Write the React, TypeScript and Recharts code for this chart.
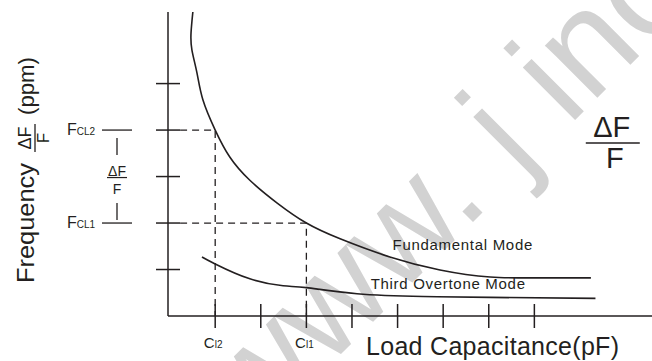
import React from "react";
import { LineChart, Line, XAxis, YAxis, ReferenceDot } from "recharts";

// Load capacitance vs frequency pulling, schematic curves (axis units = tick steps)
const fundamentalMode = [
  { x: 0.51, y: 6.54 },
  { x: 0.47, y: 6.09 },
  { x: 0.49, y: 5.72 },
  { x: 0.6, y: 5.23 },
  { x: 0.73, y: 4.65 },
  { x: 1.0, y: 4.0 },
  { x: 1.32, y: 3.42 },
  { x: 1.76, y: 2.92 },
  { x: 2.36, y: 2.43 },
  { x: 3.0, y: 2.0 },
  { x: 3.74, y: 1.66 },
  { x: 4.83, y: 1.27 },
  { x: 5.93, y: 0.99 },
  { x: 7.03, y: 0.84 },
  { x: 8.12, y: 0.82 },
  { x: 9.24, y: 0.82 },
];

const thirdOvertoneMode = [
  { x: 0.71, y: 1.27 },
  { x: 1.0, y: 1.12 },
  { x: 1.76, y: 0.8 },
  { x: 2.49, y: 0.65 },
  { x: 3.0, y: 0.61 },
  { x: 4.11, y: 0.48 },
  { x: 5.56, y: 0.42 },
  { x: 7.03, y: 0.4 },
  { x: 9.34, y: 0.38 },
];

// dashed guides from F_CL2 / F_CL1 down to C_l2 / C_l1
const guideCl2 = [
  { x: 0.23, y: 4 },
  { x: 1, y: 4 },
  { x: 1, y: 0 },
];
const guideCl1 = [
  { x: 0.23, y: 2 },
  { x: 3, y: 2 },
  { x: 3, y: 0 },
];

const xTicks = [1, 2, 3, 4, 5, 6, 7, 8];
const yTicks = [1, 2, 3, 4, 5];
const xTickLabels: Record<number, string> = { 1: "l2", 3: "l1" };
const yTickLabels: Record<number, string> = { 4: "CL2", 2: "CL1" };

const INK = "#231f20";
const FONT = "'Liberation Sans', Arial, Helvetica, sans-serif";

function XTick(props: any) {
  const { x, y, payload } = props;
  const sub = xTickLabels[payload.value];
  return (
    <g>
      <line x1={x} x2={x} y1={y - 12} y2={y + 12} stroke={INK} strokeWidth={1.5} />
      {sub && (
        <text x={x - 2} y={y + 32} textAnchor="middle" fontFamily={FONT} fontSize={15} fill={INK}>
          C<tspan fontSize={10}>{sub}</tspan>
        </text>
      )}
    </g>
  );
}

function YTick(props: any) {
  const { x, y, payload } = props;
  const v = payload.value;
  const sub = yTickLabels[v];
  return (
    <g>
      <line x1={x - 12} x2={x + 12} y1={y} y2={y} stroke={INK} strokeWidth={1.5} />
      {sub && (
        <g>
          <text x={x - 101} y={y + 5} fontFamily={FONT} fontSize={16} fill={INK}>
            F<tspan fontSize={10}>{sub}</tspan>
          </text>
          <line x1={x - 66} x2={x - 36} y1={y} y2={y} stroke={INK} strokeWidth={1.3} />
        </g>
      )}
      {v === 4 && <line x1={x - 51} x2={x - 51} y1={y + 8} y2={y + 25} stroke={INK} strokeWidth={1.3} />}
      {v === 2 && <line x1={x - 51} x2={x - 51} y1={y - 20} y2={y - 3} stroke={INK} strokeWidth={1.3} />}
      {v === 3 && (
        <g fontFamily={FONT} fill={INK} textAnchor="middle">
          <text x={x - 51} y={y - 1} fontSize={14}>ΔF</text>
          <line x1={x - 61} x2={x - 41} y1={y + 1} y2={y + 1} stroke={INK} strokeWidth={1.2} />
          <text x={x - 51} y={y + 17} fontSize={14}>F</text>
        </g>
      )}
    </g>
  );
}

function YTitle(props: any) {
  const { viewBox } = props;
  const bx = viewBox.x + 26;
  const by = viewBox.y + 271;
  return (
    <g transform={`translate(${bx},${by}) rotate(-90)`} fontFamily={FONT} fill={INK}>
      <text x={0} y={0} fontSize={23} textLength={120} lengthAdjust="spacingAndGlyphs">Frequency</text>
      <text x={145} y={-3} fontSize={18} textAnchor="middle">ΔF</text>
      <line x1={131} x2={159} y1={1} y2={1} stroke={INK} strokeWidth={1.3} />
      <text x={145} y={15} fontSize={17} textAnchor="middle">F</text>
      <text x={168} y={0} fontSize={22} textLength={58} lengthAdjust="spacingAndGlyphs">(ppm)</text>
    </g>
  );
}

function XTitle(props: any) {
  const { viewBox } = props;
  return (
    <text
      x={viewBox.x + 198}
      y={viewBox.y + 39}
      fontFamily={FONT}
      fontSize={25}
      textLength={253}
      lengthAdjust="spacing"
      fill={INK}
    >
      Load Capacitance(pF)
    </text>
  );
}

function ModeText(text: string) {
  return (props: any) => {
    const { viewBox } = props;
    const cx = viewBox.x + (viewBox.width || 0) / 2;
    const cy = viewBox.y + (viewBox.height || 0) / 2;
    return (
      <text x={cx} y={cy + 5} textAnchor="middle" fontFamily={FONT} fontSize={15} letterSpacing={0.7} fill={INK}>
        {text}
      </text>
    );
  };
}

function RatioText(props: any) {
  const { viewBox } = props;
  const cx = viewBox.x + (viewBox.width || 0) / 2;
  const cy = viewBox.y + (viewBox.height || 0) / 2;
  return (
    <g fontFamily={FONT} fill={INK} textAnchor="middle">
      <text x={cx - 1} y={cy - 6} fontSize={29}>ΔF</text>
      <line x1={cx - 27} x2={cx + 27} y1={cy} y2={cy} stroke={INK} strokeWidth={1.5} />
      <text x={cx + 2} y={cy + 25} fontSize={29}>F</text>
    </g>
  );
}

export default function App() {
  return (
    <div style={{ position: "absolute", left: 0, top: 0, width: 652, height: 361, background: "#fff" }}>
      <svg width={652} height={361} style={{ position: "absolute", left: 0, top: 0 }}>
        <text
          x={255}
          y={440}
          transform="rotate(-45 255 440)"
          fontFamily={FONT}
          fontSize={140}
          fill="#d2d2d2"
        >
          www. j inc
        </text>
      </svg>
      <div style={{ position: "absolute", left: 0, top: 0 }}>
        <LineChart width={652} height={361} margin={{ top: 12, right: 0, bottom: 0, left: 8 }}>
          <XAxis
            type="number"
            dataKey="x"
            domain={[-0.035, 10.58]}
            ticks={xTicks}
            allowDataOverflow
            height={45}
            tickSize={0}
            tickMargin={0}
            tickLine={false}
            axisLine={{ stroke: INK, strokeWidth: 1.5 }}
            tick={<XTick />}
            label={<XTitle />}
          />
          <YAxis
            type="number"
            domain={[0, 6.54]}
            ticks={yTicks}
            allowDataOverflow
            width={160}
            tickSize={0}
            tickMargin={0}
            tickLine={false}
            axisLine={{ stroke: INK, strokeWidth: 1.5 }}
            tick={<YTick />}
            label={<YTitle />}
          />
          <Line data={guideCl2} dataKey="y" type="linear" stroke={INK} strokeWidth={1.3} strokeDasharray="7 5" dot={false} isAnimationActive={false} />
          <Line data={guideCl1} dataKey="y" type="linear" stroke={INK} strokeWidth={1.3} strokeDasharray="7 5" dot={false} isAnimationActive={false} />
          <Line data={fundamentalMode} dataKey="y" type="natural" stroke={INK} strokeWidth={1.6} dot={false} isAnimationActive={false} />
          <Line data={thirdOvertoneMode} dataKey="y" type="natural" stroke={INK} strokeWidth={1.6} dot={false} isAnimationActive={false} />
          <ReferenceDot x={6.43} y={1.53} r={0} fill="none" stroke="none" label={ModeText("Fundamental Mode")} />
          <ReferenceDot x={6.11} y={0.69} r={0} fill="none" stroke="none" label={ModeText("Third Overtone Mode")} />
          <ReferenceDot x={9.72} y={3.72} r={0} fill="none" stroke="none" label={RatioText} />
        </LineChart>
      </div>
    </div>
  );
}
